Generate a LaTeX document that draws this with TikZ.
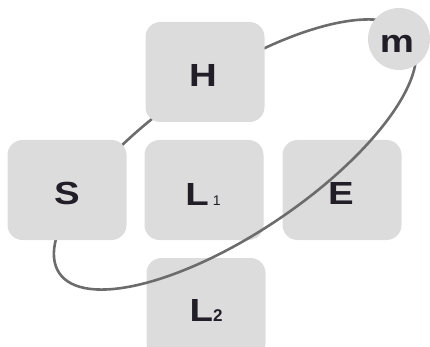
\documentclass[tikz,border=0pt]{standalone}
\usepackage{fontspec}
\setmainfont{Liberation Sans}
\definecolor{boxgray}{RGB}{220,220,220}
\definecolor{linegray}{RGB}{108,108,108}
\definecolor{txt}{RGB}{34,30,40}
\newcommand{\lbl}[1]{\scalebox{1.2}[1]{\fontsize{32}{36}\selectfont\bfseries #1}}
\tikzset{
  tile/.style={rectangle, rounded corners=15pt, fill=boxgray, draw=none,
    minimum width=119pt, minimum height=100pt, inner sep=0pt, text=txt},
  ball/.style={circle, fill=boxgray, draw=none, minimum size=62pt, inner sep=0pt, text=txt},
  orbit/.style={draw=linegray, line width=2.6pt},
  lab/.style={text=txt, inner sep=0pt}
}
\begin{document}
\begin{tikzpicture}[x=1pt,y=1pt]
\useasboundingbox (0,0) rectangle (430,-347);
\clip (0,0) rectangle (430,-347);
% tiles that lie under the orbit
\node[tile] (L1) at (204,-190) {};
\node[tile] (E)  at (342,-190) {};
\node[tile] (L2) at (206,-308) {};
% orbit
\coordinate (c) at (235,-154.5);
\draw[orbit, rotate around={34:(c)}] (c) ellipse [x radius=212, y radius=78];
% tiles that lie over the orbit
\node[tile] (H) at (205,-72) {};
\node[tile] (S) at (67,-190) {};
\node[ball] (m) at (399,-39) {};
% labels
\node[lab] (tH) at (203,-75) {\lbl{H}};
\node[lab] (tS) at (67,-193) {\lbl{S}};
\node[lab] (tE) at (341,-193) {\lbl{E}};
\node[lab] (tL1) at (203,-194) {\lbl{L}\hspace{4pt}{\fontsize{14}{14}\selectfont 1}};
\node[lab] (tL2) at (206,-310) {\lbl{L}{\fontsize{17}{17}\selectfont\bfseries 2}};
\node[lab] (tm) at (397,-44) {\lbl{m}};
\end{tikzpicture}
\end{document}
